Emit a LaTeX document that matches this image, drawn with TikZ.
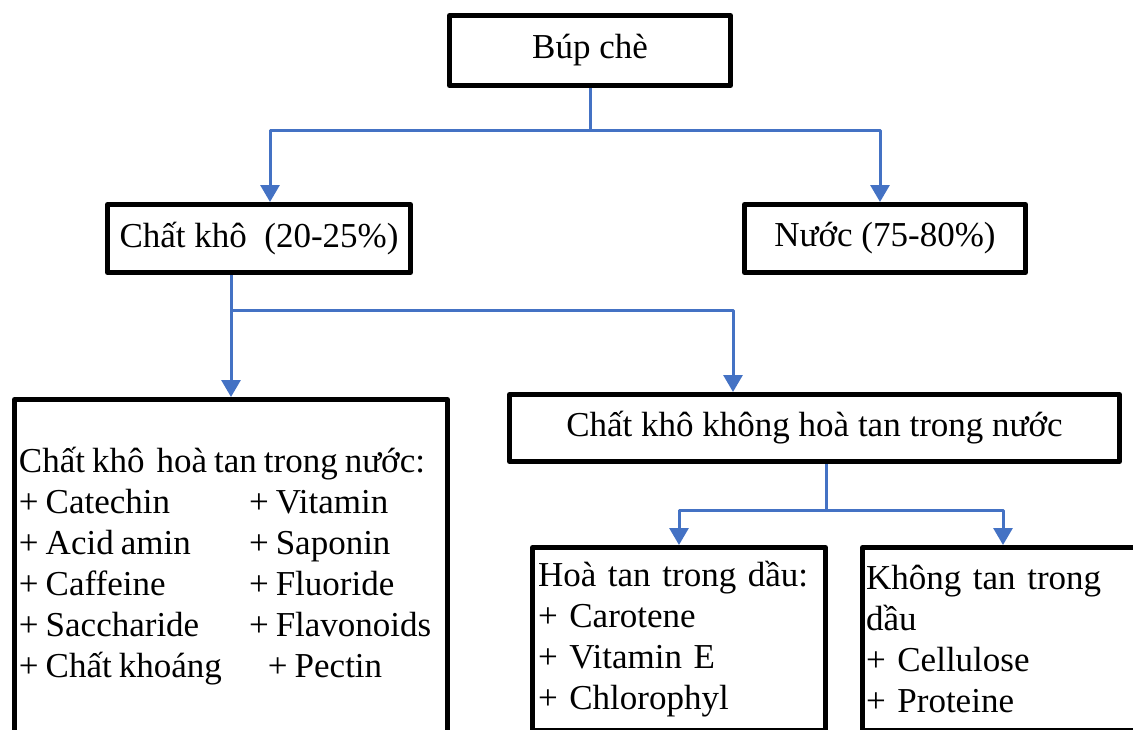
\documentclass[tikz,border=0pt]{standalone}
\usepackage{fontspec}
\setmainfont{Liberation Serif}
\usetikzlibrary{arrows.meta}
\definecolor{linkblue}{RGB}{68,114,196}
\begin{document}
\begin{tikzpicture}[x=1pt,y=-1pt,>={Triangle[width=19pt,length=17pt]},line join=round,
  font=\fontsize{35pt}{41pt}\selectfont,
  box/.style={draw=black,line width=5pt,rectangle,inner sep=0pt},
  listbox/.style={box,align=left,inner ysep=0pt},
  link/.style={draw=linkblue,line width=3pt,->}]
  \useasboundingbox (0,0) rectangle (1133,729);
  \clip (0,0) rectangle (1133,729);
%%
  % Node: bup
  \node[box,minimum width=281pt,minimum height=70pt] (bup) at (590,50.5) {Búp chè};
  % Node: chatkho
  \node[box,minimum width=303pt,minimum height=68pt] (chatkho) at (259,238.5) {Chất khô\ \ (20-25\%)};
  % Node: nuoc
  \node[box,minimum width=281pt,minimum height=68pt] (nuoc) at (885,238.5) {Nước (75-80\%)};
  % Node: tan
  \node[listbox,text width=424pt,inner xsep=4.5pt,minimum height=334pt] (tan) at (231,566.5) {%
    \spaceskip=7pt\relax
    \mbox{Chất khô\hspace{12pt}hoà tan trong nước:}\\
    \makebox[230pt][l]{+ Catechin}+ Vitamin\\
    \makebox[230pt][l]{+ Acid amin}+ Saponin\\
    \makebox[230pt][l]{+ Caffeine}+ Fluoride\\
    \makebox[230pt][l]{+ Saccharide}+ Flavonoids\\
    \makebox[249pt][l]{+ Chất khoáng}+ Pectin};
  % Node: kohoatan
  \node[box,minimum width=610pt,minimum height=67pt] (kohoatan) at (814.5,428) {Chất khô không hoà tan trong nước};
  % Node: hoatan
  \node[listbox,text width=282pt,inner xsep=5.5pt,minimum height=183pt] (hoatan) at (679,639) {%
    Hoà tan trong dầu:\\
    + Carotene\\
    + Vitamin E\\
    + Chlorophyl};
  % Node: khongtan
  \node[listbox,text width=274pt,inner xsep=3.5pt,minimum height=183pt] (khongtan) at (1003,639) {%
    Không tan trong\\
    dầu\\
    + Cellulose\\
    + Proteine};
%%
  \coordinate (fork1) at (590,130);
  \coordinate (fork2) at (231,310);
  \coordinate (fork3) at (826,510);
  % Edge: bup -> chatkho
  \draw[link] (bup.south) -- (fork1) -| ([xshift=11pt]chatkho.north);
  % Edge: bup -> nuoc
  \draw[link] (fork1) -| ([xshift=-5pt]nuoc.north);
  % Edge: chatkho -> tan
  \draw[link] ([xshift=-28pt]chatkho.south) -- (tan.north);
  % Edge: chatkho -> kohoatan
  \draw[link] (fork2) -| ([xshift=-81.5pt]kohoatan.north);
  % Edge: kohoatan -> hoatan
  \draw[link] ([xshift=11.5pt]kohoatan.south) -- (fork3) -| (hoatan.north);
  % Edge: kohoatan -> khongtan
  \draw[link] (fork3) -| (khongtan.north);
%
\end{tikzpicture}
\end{document}
